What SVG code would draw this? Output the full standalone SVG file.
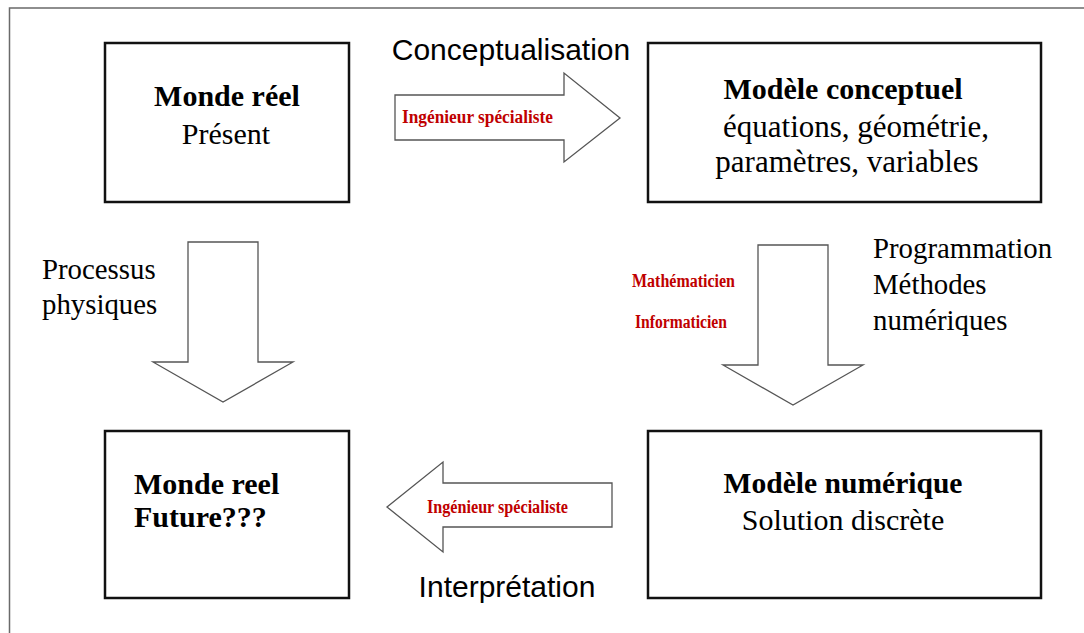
<svg xmlns="http://www.w3.org/2000/svg" width="1084" height="633" viewBox="0 0 1084 633">
<style>
.frame{fill:none;stroke:#6a6a6a;stroke-width:1.5}
.box{fill:#fff;stroke:#111;stroke-width:2.5}
.arrow{fill:#fff;stroke:#555;stroke-width:1.3;stroke-linejoin:miter}
.t{font-family:"Liberation Serif","Times New Roman",serif;font-size:30px;fill:#000}
.b{font-weight:bold}
.s{font-family:"Liberation Sans",Arial,sans-serif;font-size:30px;fill:#000}
.l{font-family:"Liberation Serif","Times New Roman",serif;font-size:28.8px;fill:#000}
.r{font-family:"Liberation Serif","Times New Roman",serif;font-size:18px;font-weight:bold;fill:#c00000}
</style>
<rect width="1084" height="633" fill="#fff"/>
<path class="frame" d="M9.5,640 V8 H1090"/>
<g id="connectors">
  <g id="arrow-conceptualisation">
    <polygon class="arrow" points="395,95 564,95 564,73 620,118 564,162 564,140 395,140"/>
    <text class="r" x="402" y="123" textLength="151" lengthAdjust="spacingAndGlyphs">Ingénieur  spécialiste</text>
    <text class="s" x="511" y="60" text-anchor="middle">Conceptualisation</text>
  </g>
  <g id="arrow-programmation">
    <polygon class="arrow" points="758,245 828,245 828,365 863,365 793,405 723,365 758,365"/>
    <text class="r" x="632" y="287" textLength="103" lengthAdjust="spacingAndGlyphs">Mathématicien</text>
    <text class="r" x="635" y="328" textLength="92" lengthAdjust="spacingAndGlyphs">Informaticien</text>
    <text class="l" x="873" y="258">Programmation</text>
    <text class="l" x="873" y="294">Méthodes</text>
    <text class="l" x="873" y="330">numériques</text>
  </g>
  <g id="arrow-processus">
    <polygon class="arrow" points="188,242 258,242 258,362 293,362 223,402 153,362 188,362"/>
    <text class="l" x="42" y="279">Processus</text>
    <text class="l" x="42" y="314">physiques</text>
  </g>
  <g id="arrow-interpretation">
    <polygon class="arrow" points="612,483 443,483 443,462 387,507 443,552 443,527 612,527"/>
    <text class="r" x="427" y="513" textLength="141" lengthAdjust="spacingAndGlyphs">Ingénieur  spécialiste</text>
    <text class="s" x="507" y="597" text-anchor="middle">Interprétation</text>
  </g>
</g>
<g id="monde-reel">
  <rect class="box" x="105" y="43" width="244" height="159"/>
  <text class="t b" x="227" y="106" text-anchor="middle">Monde réel</text>
  <text class="t" x="226" y="144" text-anchor="middle">Présent</text>
</g>
<g id="modele-conceptuel">
  <rect class="box" x="648" y="43" width="393" height="159"/>
  <text class="t b" x="843" y="99" text-anchor="middle">Modèle conceptuel</text>
  <text class="t" x="856" y="137" text-anchor="middle" style="font-size:31px">équations, géométrie,</text>
  <text class="t" x="847" y="172" text-anchor="middle" style="font-size:31px">paramètres, variables</text>
</g>
<g id="monde-reel-futur">
  <rect class="box" x="105" y="431" width="244" height="167"/>
  <text class="t b" x="134" y="494">Monde reel</text>
  <text class="t b" x="134" y="527">Future???</text>
</g>
<g id="modele-numerique">
  <rect class="box" x="648" y="431" width="393" height="167"/>
  <text class="t b" x="843" y="493" text-anchor="middle" textLength="239" lengthAdjust="spacingAndGlyphs">Modèle numérique</text>
  <text class="t" x="843" y="530" text-anchor="middle">Solution discrète</text>
</g>
</svg>
